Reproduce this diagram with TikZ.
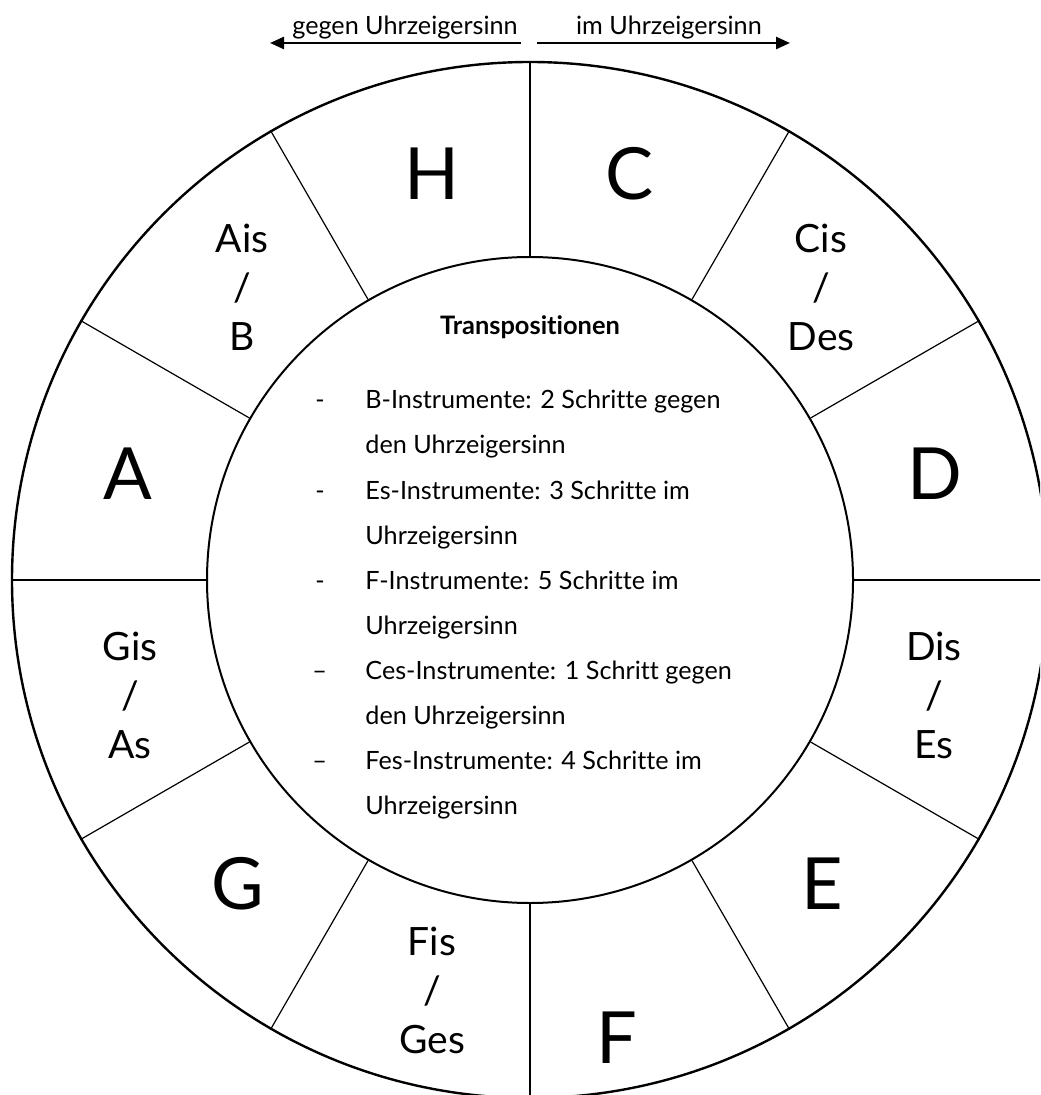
\documentclass[tikz,border=0pt]{standalone}
\usepackage{fontspec}
\setmainfont{Lato}[Ligatures=NoCommon]
\usetikzlibrary{arrows.meta}
\begin{document}
\begin{tikzpicture}[x=0.5pt,y=-0.5pt,
  ring/.style={circle,draw,inner sep=0pt},
  spoke/.style={line width=0.6pt},
  big/.style={font=\fontsize{36}{40}\selectfont,inner sep=0pt},
  mid/.style={font=\fontsize{19.5}{24.5}\selectfont,align=center,inner sep=0pt},
  txt/.style={font=\fontsize{12.6}{15}\selectfont,inner sep=0pt,anchor=base west},
  dir/.style={line width=1.2pt,-{Triangle[length=7pt,width=6pt]}}]
\useasboundingbox (0,0) rectangle (1040,1095);
\clip (0,0) rectangle (1040,1095);
\coordinate (c) at (530,580);
\node[ring,line width=1.2pt,minimum size=518pt] (outer) at (c) {};
\node[ring,line width=1pt,minimum size=323pt] (inner) at (c) {};
\foreach \a in {0,30,...,330}{
  \draw[spoke] (inner.\a) -- (outer.\a);
}
% note labels
\node[big] (nC) at (630,174) {C};
\node[big] (nH) at (432,174) {H};
\node[big] (nD) at (935,474) {D};
\node[big] (nA) at (128,474) {A};
\node[big] (nE) at (822,884) {E};
\node[big] (nG) at (238,884) {G};
\node[big] (nF) at (617,1038) {F};
\node[mid] (nCis) at (821,287) {Cis\\/\\Des};
\node[mid] (nAis) at (242,287) {Ais\\/\\B};
\node[mid] (nDis) at (934,695) {Dis\\/\\Es};
\node[mid] (nGis) at (130,695) {Gis\\/\\As};
\node[mid] (nFis) at (432,990) {Fis\\/\\Ges};
% centre text
\node[font=\fontsize{12.7}{15}\selectfont\bfseries,inner sep=0pt,anchor=base] (title) at (530,335) {Transpositionen};
\node[txt] (d1) at (315,409) {-};
\node[txt] (t1) at (365,409) {B-Instrumente: 2 Schritte gegen};
\node[txt] (t2) at (365,454) {den Uhrzeigersinn};
\node[txt] (d2) at (315,499) {-};
\node[txt] (t3) at (365,499) {Es-Instrumente: 3 Schritte im};
\node[txt] (t4) at (365,544) {Uhrzeigersinn};
\node[txt] (d3) at (315,589) {-};
\node[txt] (t5) at (365,589) {F-Instrumente: 5 Schritte im};
\node[txt] (t6) at (365,634) {Uhrzeigersinn};
\node[txt] (d4) at (312,679) {–};
\node[txt] (t7) at (365,679) {Ces-Instrumente: 1 Schritt gegen};
\node[txt] (t8) at (365,724) {den Uhrzeigersinn};
\node[txt] (d5) at (312,769) {–};
\node[txt] (t9) at (365,769) {Fes-Instrumente: 4 Schritte im};
\node[txt] (t10) at (365,814) {Uhrzeigersinn};
% direction arrows
\node[txt,anchor=base] (lccw) at (405,35) {gegen Uhrzeigersinn};
\node[txt,anchor=base] (lcw) at (669,35) {im Uhrzeigersinn};
\coordinate (a1s) at (521,43);
\coordinate (a1e) at (270,43);
\coordinate (a2s) at (537,43);
\coordinate (a2e) at (790,43);
\draw[dir] (a1s) -- (a1e);
\draw[dir] (a2s) -- (a2e);
\end{tikzpicture}
\end{document}
